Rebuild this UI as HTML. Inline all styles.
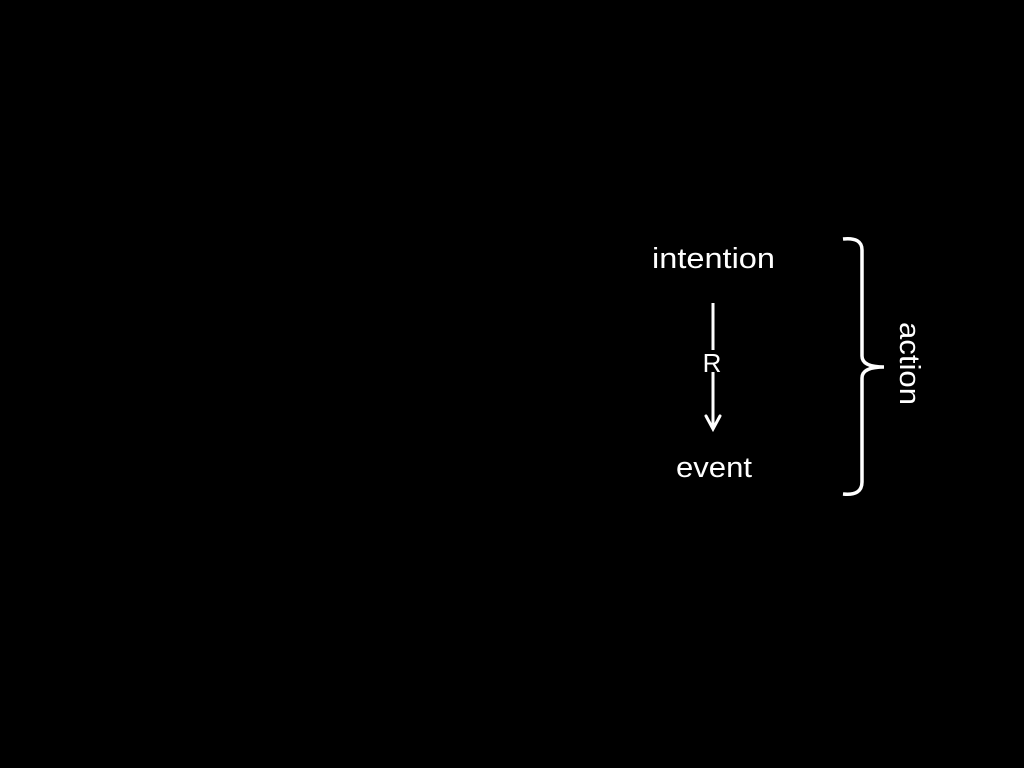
<!DOCTYPE html>
<html><head><style>
html,body{margin:0;padding:0;background:#000;width:1024px;height:768px;overflow:hidden}
svg{display:block}
text{font-family:"Liberation Sans",sans-serif;fill:#fff}
</style></head><body>
<svg width="1024" height="768" viewBox="0 0 1024 768">
<rect width="1024" height="768" fill="#000"/>
<text x="652" y="268" font-size="29" textLength="123" lengthAdjust="spacingAndGlyphs">intention</text>
<text x="676" y="477" font-size="29" textLength="76" lengthAdjust="spacingAndGlyphs">event</text>
<line x1="713" y1="303" x2="713" y2="429" stroke="#fff" stroke-width="3"/>
<polyline points="706,416 713,429 720,416" fill="none" stroke="#fff" stroke-width="3" stroke-linecap="round"/>
<rect x="704" y="350" width="18" height="22" fill="#000"/>
<text x="712" y="372" font-size="26" text-anchor="middle">R</text>
<path d="M843,239 Q862,237 862,250 L862,356 Q862,367 884,367 Q862,367 862,378 L862,482 Q862,496 843,494" fill="none" stroke="#fff" stroke-width="3.5"/>
<text x="-41" y="0" font-size="29" textLength="83" lengthAdjust="spacingAndGlyphs" transform="translate(900,363) rotate(90)">action</text>
</svg>
</body></html>
